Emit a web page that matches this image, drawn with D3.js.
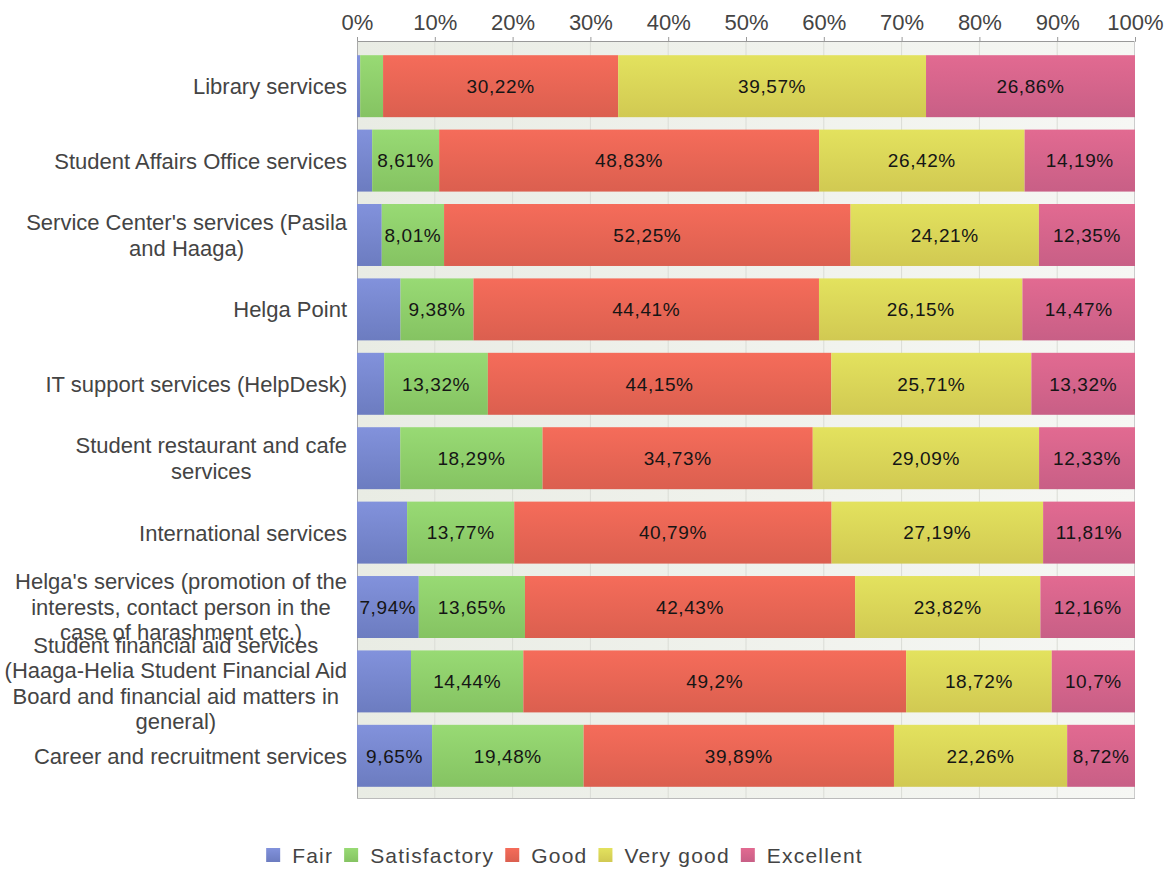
<!DOCTYPE html>
<html><head><meta charset="utf-8">
<script src="https://cdn.jsdelivr.net/npm/d3@7"></script>
<style>body{margin:0;background:#fff}svg{display:block}</style>
</head><body>
<svg id="chart" width="1168" height="870"></svg>
<script>
const categories = [
  "Library services",
  "Student Affairs Office services",
  "Service Center's services (Pasila and Haaga)",
  "Helga Point",
  "IT support services (HelpDesk)",
  "Student restaurant and cafe services",
  "International services",
  "Helga's services (promotion of the interests, contact person in the case of harashment etc.)",
  "Student financial aid services (Haaga-Helia Student Financial Aid Board and financial aid matters in general)",
  "Career and recruitment services"
];
const seriesNames = ["Fair", "Satisfactory", "Good", "Very good", "Excellent"];
const fair         = [0.41, 1.95, 3.18, 5.59, 3.50, 5.56, 6.44, 7.94, 6.94, 9.65];
const satisfactory = [2.94, 8.61, 8.01, 9.38, 13.32, 18.29, 13.77, 13.65, 14.44, 19.48];
const good         = [30.22, 48.83, 52.25, 44.41, 44.15, 34.73, 40.79, 42.43, 49.2, 39.89];
const veryGood     = [39.57, 26.42, 24.21, 26.15, 25.71, 29.09, 27.19, 23.82, 18.72, 22.26];
const excellent    = [26.86, 14.19, 12.35, 14.47, 13.32, 12.33, 11.81, 12.16, 10.7, 8.72];
const tickValues = [0, 10, 20, 30, 40, 50, 60, 70, 80, 90, 100];

const seriesValues = [fair, satisfactory, good, veryGood, excellent];
const colorsTop = ["#8292dc", "#98da74", "#f56c5a", "#e3e25e", "#e26a91"];
const colorsBot = ["#6c7cc0", "#85c362", "#db5f4f", "#d1c952", "#c85f86"];

const svg = d3.select("#chart");
const FONT = "'Liberation Sans', Arial, sans-serif";
const L = 357, R = 1135, T = 41, B = 799;

const x = d3.scaleLinear().domain([0, 100]).range([L, R]);
const y = d3.scaleBand().domain(categories).range([49, 793]).paddingInner(0.167).paddingOuter(0.0833);

const defs = svg.append("defs");
const bg = defs.append("linearGradient").attr("id", "bgGrad").attr("x1", 0).attr("x2", 1).attr("y1", 0).attr("y2", 0);
bg.append("stop").attr("offset", "0%").attr("stop-color", "#e9ece4");
bg.append("stop").attr("offset", "100%").attr("stop-color", "#f6f7f4");
seriesNames.forEach((s, i) => {
  const g = defs.append("linearGradient").attr("id", "g" + i).attr("x1", 0).attr("x2", 0).attr("y1", 0).attr("y2", 1);
  g.append("stop").attr("offset", "0%").attr("stop-color", colorsTop[i]);
  g.append("stop").attr("offset", "100%").attr("stop-color", colorsBot[i]);
});

// plot background
svg.append("rect").attr("x", L).attr("y", T).attr("width", R - L).attr("height", B - T).attr("fill", "url(#bgGrad)");
// gridlines
svg.append("g").selectAll("line").data(tickValues.slice(1, -1)).join("line")
  .attr("x1", d => x(d)).attr("x2", d => x(d)).attr("y1", T).attr("y2", B)
  .attr("stroke", "#dadcd6").attr("stroke-width", 1);

// top axis
const axis = d3.axisTop(x).tickValues(tickValues).tickFormat(d => d + "%").tickSize(4).tickPadding(7);
const ax = svg.append("g").attr("transform", `translate(0,${T})`).call(axis);
ax.select(".domain").attr("stroke", "#999");
ax.selectAll(".tick line").attr("stroke", "#999");
ax.selectAll(".tick text").attr("font-family", FONT).attr("font-size", 22).attr("fill", "#444");

// borders
svg.append("line").attr("x1", L + 0.5).attr("x2", L + 0.5).attr("y1", T).attr("y2", B).attr("stroke", "#aaa");
svg.append("line").attr("x1", R - 0.5).attr("x2", R - 0.5).attr("y1", T).attr("y2", B).attr("stroke", "#ccc");
svg.append("line").attr("x1", L).attr("x2", R).attr("y1", B - 0.5).attr("y2", B - 0.5).attr("stroke", "#bbb");

// stacked data
const rows = categories.map((c, i) => {
  const r = { cat: c };
  seriesNames.forEach((s, k) => r[s] = seriesValues[k][i]);
  return r;
});
const stacked = d3.stack().keys(seriesNames)(rows);

const fmt = v => String(v).replace(".", ",") + "%";
stacked.forEach((layer, k) => {
  const g = svg.append("g");
  g.selectAll("rect").data(layer).join("rect")
    .attr("x", d => x(d[0])).attr("width", d => x(d[1]) - x(d[0]))
    .attr("y", d => y(d.data.cat)).attr("height", y.bandwidth())
    .attr("fill", `url(#g${k})`);
  g.selectAll("text").data(layer.filter(d => d[1] - d[0] >= 7.5)).join("text")
    .attr("x", d => (x(d[0]) + x(d[1])) / 2)
    .attr("y", d => y(d.data.cat) + y.bandwidth() / 2)
    .attr("dy", "0.36em").attr("text-anchor", "middle")
    .attr("font-family", FONT).attr("font-size", 19).attr("letter-spacing", 0.6)
    .attr("fill", "#151515")
    .text(d => fmt(d.data[layer.key]));
});

// category labels with wrapping
const MAXW = 346, LH = 25.5;
const meas = svg.append("text").attr("font-family", FONT).attr("font-size", 22).attr("visibility", "hidden");
const tw = s => { meas.text(s); return meas.node().getComputedTextLength(); };
categories.forEach(c => {
  const words = c.split(" ");
  const lines = [];
  let cur = "";
  words.forEach(w => {
    const t = cur ? cur + " " + w : w;
    if (tw(t) > MAXW && cur) { lines.push(cur); cur = w; } else cur = t;
  });
  lines.push(cur);
  const bw = d3.max(lines, tw);
  const cx = L - 10 - bw / 2;
  const cy = y(c) + y.bandwidth() / 2 + (lines.length > 3 ? 1.5 : 0);
  const t = svg.append("text").attr("font-family", FONT).attr("font-size", 22).attr("fill", "#444").attr("text-anchor", "middle");
  lines.forEach((ln, j) => {
    t.append("tspan").attr("x", cx).attr("y", cy + (j - (lines.length - 1) / 2) * LH).attr("dy", "0.36em").text(ln);
  });
});
meas.remove();

// legend
const leg = svg.append("g");
let lx = 0;
seriesNames.forEach((s, i) => {
  const g = leg.append("g");
  g.append("rect").attr("x", lx).attr("y", -15).attr("width", 14).attr("height", 14).attr("fill", `url(#g${i})`);
  const t = g.append("text").attr("x", lx + 26).attr("y", 0).attr("font-family", FONT).attr("font-size", 21)
    .attr("letter-spacing", 1.2).attr("fill", "#444").text(s);
  lx += 26 + t.node().getComputedTextLength() + 11;
});
const legW = lx - 11;
leg.attr("transform", `translate(${564.5 - legW / 2},863)`);
</script>
</body></html>
